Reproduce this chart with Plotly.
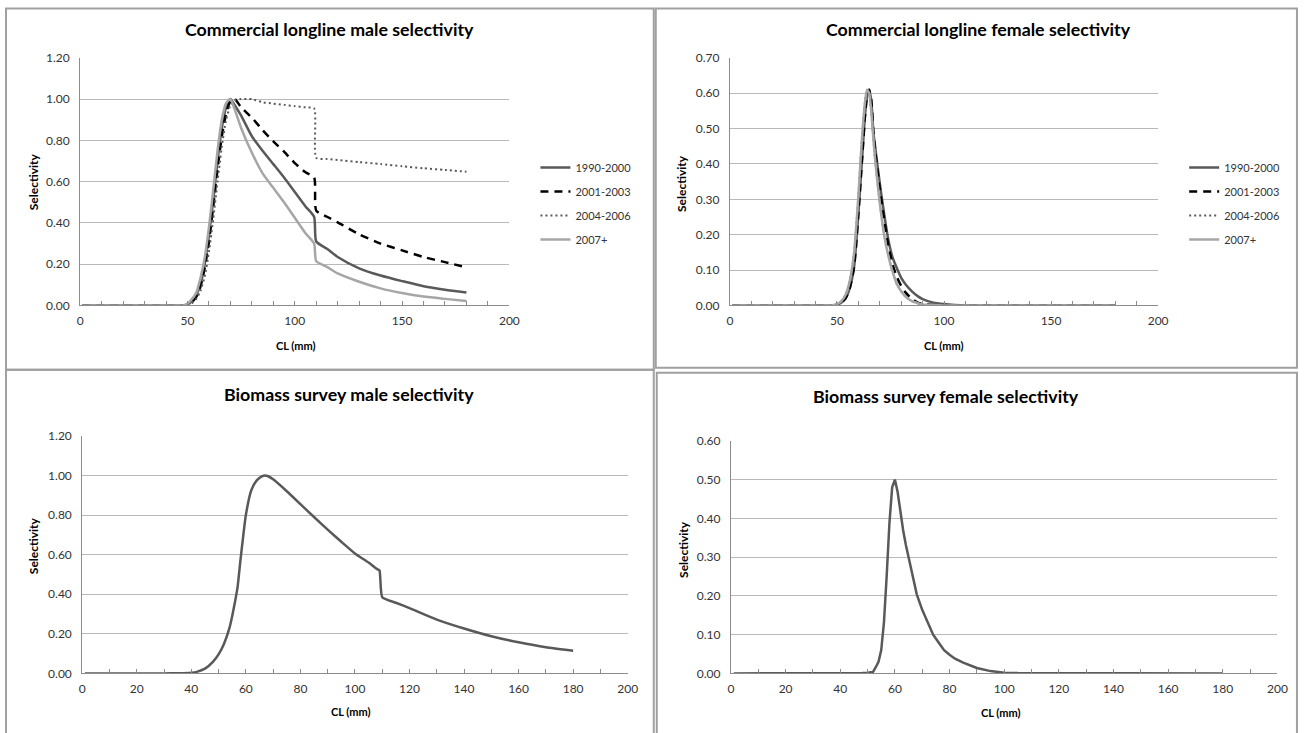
import plotly.graph_objects as go

# figure fills the whole 1308x733 page (body margin removed by a post script)
W, H = 1308, 733
# measured screen mapping of this page in the viewer (screen = A + B * page)
AX, BX = 5.0, 0.9874
AY, BY = 8.3, 0.977

# ---------------- data ----------------
# Commercial longline male selectivity
cm_x = [1, 10, 20, 30, 40, 46, 48, 50, 52, 54, 56, 58, 60, 62, 64, 66, 68, 70, 72, 75, 80, 85,
        90, 95, 100, 105, 109, 110, 115, 120, 130, 140, 150, 160, 170, 180]
cm_1990 = [0, 0, 0, 0, 0, 0, 0, 0.005, 0.02, 0.05, 0.10, 0.20, 0.34, 0.51, 0.70, 0.86, 0.96, 1.0,
           0.97, 0.92, 0.82, 0.75, 0.685, 0.62, 0.55, 0.48, 0.43, 0.31, 0.275, 0.235, 0.18, 0.145,
           0.118, 0.093, 0.076, 0.063]
cm_2001 = [0, 0, 0, 0, 0, 0, 0, 0.003, 0.015, 0.04, 0.09, 0.18, 0.31, 0.48, 0.66, 0.82, 0.93, 0.99,
           1.0, 0.96, 0.91, 0.85, 0.795, 0.745, 0.69, 0.645, 0.62, 0.46, 0.43, 0.403, 0.345, 0.30,
           0.267, 0.235, 0.21, 0.185]
cm_2004 = [0, 0, 0, 0, 0, 0, 0, 0.002, 0.01, 0.03, 0.07, 0.14, 0.26, 0.42, 0.60, 0.77, 0.90, 0.97,
           0.995, 1.0, 1.0, 0.985, 0.978, 0.972, 0.966, 0.96, 0.955, 0.715, 0.71, 0.705, 0.695,
           0.685, 0.675, 0.665, 0.657, 0.648]
cm_2007 = [0, 0, 0, 0, 0, 0, 0, 0.01, 0.03, 0.06, 0.13, 0.23, 0.38, 0.56, 0.75, 0.90, 0.98, 1.0,
           0.95, 0.86, 0.74, 0.64, 0.57, 0.50, 0.425, 0.35, 0.30, 0.215, 0.187, 0.155, 0.115, 0.083,
           0.06, 0.043, 0.032, 0.022]

# Commercial longline female selectivity
cf_x = [1, 10, 20, 30, 40, 46, 48, 50, 52, 54, 56, 58, 60, 61, 62, 63, 64, 65, 66, 67, 68, 70, 72,
        74, 76, 78, 80, 82, 85, 88, 90, 95, 100, 105, 110, 120, 140, 160, 180]
cf_1990 = [0, 0, 0, 0, 0, 0, 0, 0.002, 0.008, 0.02, 0.05, 0.11, 0.26, 0.35, 0.44, 0.53, 0.59, 0.61,
           0.58, 0.49, 0.44, 0.345, 0.26, 0.185, 0.135, 0.105, 0.078, 0.06, 0.04, 0.025, 0.018,
           0.008, 0.004, 0.0015, 0, 0, 0, 0, 0]
cf_2001 = [0, 0, 0, 0, 0, 0, 0, 0.002, 0.008, 0.02, 0.05, 0.11, 0.26, 0.35, 0.44, 0.53, 0.59, 0.61,
           0.58, 0.49, 0.43, 0.33, 0.245, 0.17, 0.115, 0.08, 0.055, 0.037, 0.018, 0.007, 0.004,
           0.001, 0, 0, 0, 0, 0, 0, 0]
cf_2004 = [0, 0, 0, 0, 0, 0, 0.001, 0.004, 0.012, 0.03, 0.07, 0.15, 0.31, 0.41, 0.50, 0.57, 0.61,
           0.60, 0.55, 0.47, 0.40, 0.29, 0.20, 0.14, 0.095, 0.06, 0.04, 0.025, 0.012, 0.006, 0.003,
           0.001, 0, 0, 0, 0, 0, 0, 0]
cf_2007 = [0, 0, 0, 0, 0, 0, 0.001, 0.004, 0.012, 0.03, 0.07, 0.15, 0.31, 0.41, 0.50, 0.57, 0.61,
           0.60, 0.55, 0.47, 0.40, 0.29, 0.20, 0.14, 0.095, 0.06, 0.04, 0.025, 0.012, 0.006, 0.003,
           0.001, 0, 0, 0, 0, 0, 0, 0]

# Biomass survey male selectivity
bm_x = [1, 10, 20, 30, 35, 40, 42, 45, 48, 50, 52, 54, 55, 56, 57, 58, 59, 60, 62, 64, 66, 67, 68,
        70, 75, 80, 85, 90, 95, 100, 105, 108, 109, 110, 115, 120, 130, 140, 150, 160, 170, 180]
bm_y = [0, 0, 0, 0, 0.001, 0.004, 0.008, 0.024, 0.06, 0.096, 0.15, 0.23, 0.29, 0.36, 0.44, 0.57,
        0.69, 0.80, 0.925, 0.975, 0.997, 1.0, 0.997, 0.98, 0.92, 0.855, 0.79, 0.726, 0.665, 0.606,
        0.56, 0.528, 0.52, 0.385, 0.357, 0.33, 0.272, 0.227, 0.188, 0.157, 0.132, 0.115]

# Biomass survey female selectivity
bf_x = [1, 10, 20, 30, 40, 48, 50, 52, 53, 54, 55, 56, 57, 58, 59, 60, 61, 62, 63, 64, 65, 66, 68,
        70, 72, 74, 76, 78, 80, 82, 85, 88, 90, 95, 100, 105, 110, 120, 140, 160, 180]
bf_y = [0, 0, 0, 0, 0, 0.001, 0.002, 0.004, 0.016, 0.03, 0.06, 0.132, 0.252, 0.388, 0.48, 0.50,
        0.468, 0.412, 0.37, 0.332, 0.30, 0.268, 0.204, 0.164, 0.132, 0.10, 0.08, 0.06, 0.048, 0.038,
        0.028, 0.019, 0.014, 0.006, 0.002, 0.001, 0.001, 0, 0, 0, 0]

series_names = ["1990-2000", "2001-2003", "2004-2006", "2007+"]
titles = ["Commercial longline male selectivity", "Commercial longline female selectivity",
          "Biomass survey male selectivity", "Biomass survey female selectivity"]

# ---------------- styling ----------------
FONT = "Lato, 'Open Sans', sans-serif"
DARK = "#595959"
LIGHT = "#a6a6a6"
styles = [dict(color=DARK, width=2.5, shape="spline", smoothing=0.6),
          dict(color="#000000", width=2.5, dash="8px,6px", shape="spline", smoothing=0.6),
          dict(color=DARK, width=2, dash="2px,3px", shape="spline", smoothing=0.6),
          dict(color=LIGHT, width=2.5, shape="spline", smoothing=0.6)]


def fx(px):
    return ((px - AX) / BX) / W


def fy(py):
    return 1 - ((py - AY) / BY) / H


def clamp(v):
    return min(max(v, 0.0008), 0.9992)


fig = go.Figure()

cm_sets = [cm_1990, cm_2001, cm_2004, cm_2007]
cf_sets = [cf_1990, cf_2001, cf_2004, cf_2007]
for i, name in enumerate(series_names):
    fig.add_trace(go.Scatter(x=cm_x, y=cm_sets[i], mode="lines", name=name, line=styles[i],
                             xaxis="x", yaxis="y", legend="legend", legendgroup="a" + str(i),
                             hoverinfo="skip"))
for i, name in enumerate(series_names):
    fig.add_trace(go.Scatter(x=cf_x, y=cf_sets[i], mode="lines", name=name, line=styles[i],
                             xaxis="x2", yaxis="y2", legend="legend2", legendgroup="b" + str(i),
                             hoverinfo="skip"))
fig.add_trace(go.Scatter(x=bm_x, y=bm_y, mode="lines",
                         line=dict(color=DARK, width=2.5, shape="spline", smoothing=0.5),
                         xaxis="x3", yaxis="y3", showlegend=False, hoverinfo="skip"))
fig.add_trace(go.Scatter(x=bf_x, y=bf_y, mode="lines", line=dict(color=DARK, width=2.5),
                         xaxis="x4", yaxis="y4", showlegend=False, hoverinfo="skip"))

GRID = "#b9b9b9"
AXL = "#8c8c8c"
TICKF = dict(family=FONT, size=12, color="#333333")


def xax(dom, dtick, anchor):
    return dict(domain=dom, range=[0, 200], dtick=dtick, tick0=0, showgrid=False, zeroline=False,
                showline=True, linecolor=AXL, linewidth=1, ticks="inside", ticklen=4,
                tickcolor=AXL, tickfont=TICKF, anchor=anchor, fixedrange=True,
                ticklabelstandoff=4,
                minor=dict(dtick=10, ticks="inside", ticklen=4, tickcolor=AXL, showgrid=False))


def yax(dom, rng, dtick, anchor):
    return dict(domain=dom, range=rng, dtick=dtick, tick0=0, tickformat=".2f", showgrid=True,
                gridcolor=GRID, gridwidth=1, zeroline=False, showline=True, linecolor=AXL,
                linewidth=1, ticks="", tickfont=TICKF, anchor=anchor, fixedrange=True,
                ticklabelstandoff=7)


top_y = [fy(305), fy(58)]
fig.update_layout(
    width=W, height=H, margin=dict(l=0, r=0, t=0, b=0),
    paper_bgcolor="white", plot_bgcolor="white",
    font=dict(family=FONT, color="#333333"),
    xaxis=xax([fx(82), fx(510)], 50, "y"),
    yaxis=yax(top_y, [0, 1.2], 0.2, "x"),
    xaxis2=xax([fx(730), fx(1157)], 50, "y2"),
    yaxis2=yax(top_y, [0, 0.7], 0.1, "x2"),
    xaxis3=xax([fx(84), fx(628)], 20, "y3"),
    yaxis3=yax([fy(672), fy(435)], [0, 1.2], 0.2, "x3"),
    xaxis4=xax([fx(731), fx(1276)], 20, "y4"),
    yaxis4=yax([fy(672), fy(440)], [0, 0.6], 0.1, "x4"),
    legend=dict(x=fx(536), y=fy(153), xanchor="left", yanchor="top", tracegroupgap=5,
                font=dict(family=FONT, size=11, color="#333333"), bgcolor="rgba(0,0,0,0)"),
    legend2=dict(x=fx(1183), y=fy(153), xanchor="left", yanchor="top", tracegroupgap=5,
                 font=dict(family=FONT, size=11, color="#333333"), bgcolor="rgba(0,0,0,0)"),
    showlegend=True,
)

# panel borders
BORDER = "#a0a0a0"
for (x0, y0, x1, y1) in [(8, 7, 654, 369), (656, 7, 1301, 367), (8, 369, 654, 760),
                         (657, 372, 1330, 760)]:
    fig.add_shape(type="rect", xref="paper", yref="paper", x0=clamp(fx(x0)), x1=clamp(fx(x1)),
                  y0=fy(y1), y1=clamp(fy(y0)), line=dict(color=BORDER, width=2),
                  fillcolor="rgba(0,0,0,0)", layer="below")

# titles
for t, (cx, cy) in zip(titles, [(331, 29), (978, 29), (350, 393), (945, 395)]):
    fig.add_annotation(text="<b>" + t + "</b>", x=fx(cx), y=fy(cy), xref="paper", yref="paper",
                       showarrow=False, xanchor="center", yanchor="middle",
                       font=dict(family=FONT, size=17.8, color="#000000"))

# axis titles
for (cx, cy) in [(297, 345), (943, 345), (352, 710), (1000, 711)]:
    fig.add_annotation(text="<b>CL (mm)</b>", x=fx(cx), y=fy(cy), xref="paper", yref="paper",
                       showarrow=False, xanchor="center", yanchor="middle",
                       font=dict(family=FONT, size=11, color="#000000"))
for (cx, cy) in [(35, 182), (681, 183), (35, 545), (683, 548)]:
    fig.add_annotation(text="<b>Selectivity</b>", x=fx(cx), y=fy(cy), xref="paper", yref="paper",
                       showarrow=False, xanchor="center", yanchor="middle", textangle=-90,
                       font=dict(family=FONT, size=12, color="#000000"))

fig.write_html("out.html", config={"displayModeBar": False},
               post_script="document.body.style.margin='0';")
